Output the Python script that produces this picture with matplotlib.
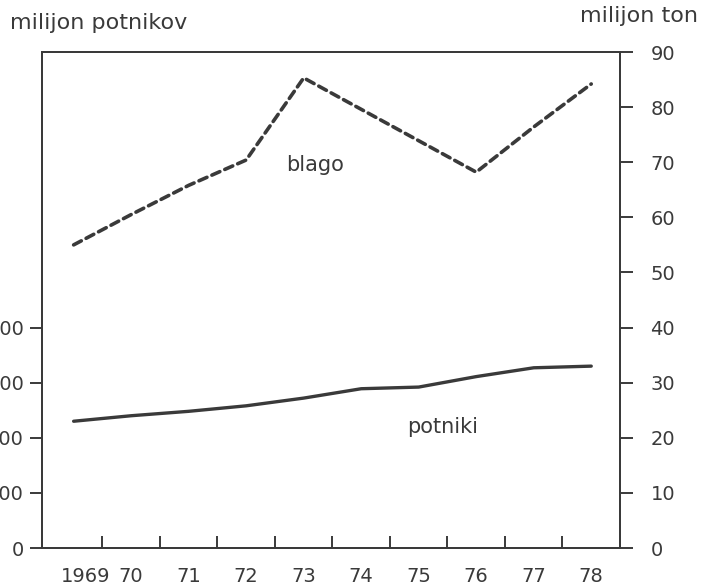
import matplotlib
matplotlib.use("Agg")
import matplotlib.pyplot as plt
import matplotlib.transforms as mtransforms

years = [1969, 1970, 1971, 1972, 1973, 1974, 1975, 1976, 1977, 1978]
year_labels = ["1969", "70", "71", "72", "73", "74", "75", "76", "77", "78"]
potniki = [230, 240, 248, 258, 272, 289, 292, 311, 327, 330]   # milijon potnikov (left axis)
blago = [55.0, 60.5, 65.8, 70.4, 85.3, 79.6, 73.9, 68.2, 76.4, 84.2]  # milijon ton (right axis)
left_ticks = [0, 100, 200, 300, 400]
left_ticklabels = ["0", "100", "200", "300", "400"]
right_ticks = [0, 10, 20, 30, 40, 50, 60, 70, 80, 90]

ink = "#3a3a3a"
plt.rcParams['font.family'] = ['DejaVu Sans']

fig = plt.figure(figsize=(7.02, 5.85), dpi=100)
ax = fig.add_axes([42/702, 1-548/585, (620-42)/702, (548-52)/585])
ax2 = ax.twinx()

ax.plot(years, potniki, color=ink, lw=2.4, solid_capstyle='round')
ax2.plot(years, blago, color=ink, lw=2.6, dashes=(2.4, 1.5), dash_capstyle='round')

ax.set_xlim(1968.45, 1978.5)
ax.set_ylim(0, 900)
ax2.set_ylim(0, 90)

for a in (ax, ax2):
    for s in a.spines.values():
        s.set_color(ink)
        s.set_linewidth(1.4)

ax.set_yticks(left_ticks, left_ticklabels)
ax.tick_params(axis='y', direction='out', length=9, width=1.4, color=ink,
               labelsize=14, labelcolor=ink, pad=4)
ax2.set_yticks(right_ticks, [str(t) for t in right_ticks])
ax2.tick_params(axis='y', direction='out', length=9, width=1.4, color=ink,
                labelsize=14, labelcolor=ink, pad=13)

ax.set_xticks(years, year_labels)
ax.set_xticks([y + 0.5 for y in years[:-1]], minor=True)
ax.tick_params(axis='x', which='major', length=0, labelsize=14, labelcolor=ink, pad=14)
ax.tick_params(axis='x', which='minor', direction='in', length=9, width=1.4, color=ink)
lab0 = ax.get_xticklabels()[0]
lab0.set_transform(lab0.get_transform() + mtransforms.ScaledTranslation(12/100, 0, fig.dpi_scale_trans))

ax.text(1972.7, 69.5, "blago", transform=ax2.transData, fontsize=15, color=ink, ha='left', va='center')
ax.text(1974.8, 22, "potniki", transform=ax2.transData, fontsize=15, color=ink, ha='left', va='center')

fig.text(10/702, 1-23/585, "milijon potnikov", fontsize=16, color=ink, ha='left', va='center')
fig.text(698/702, 1-16/585, "milijon ton", fontsize=16, color=ink, ha='right', va='center')

fig.savefig("out.png", dpi=100)
